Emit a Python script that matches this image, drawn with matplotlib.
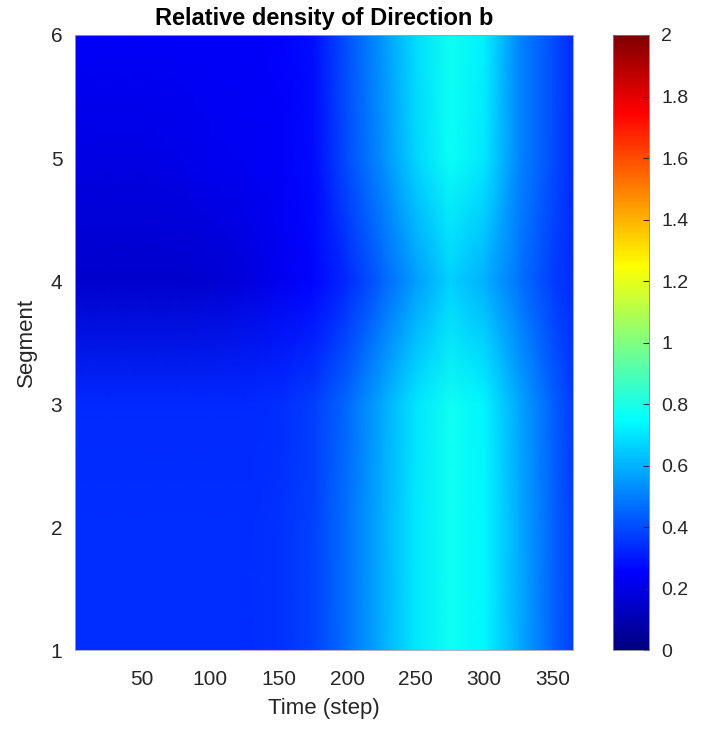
import numpy as np
import matplotlib
matplotlib.use("Agg")
import matplotlib.pyplot as plt
from matplotlib.colors import LinearSegmentedColormap

plt.rcParams['font.family'] = ['Liberation Sans', 'DejaVu Sans']

# time steps (columns) and segments (rows)
time_steps = [1, 25, 50, 75, 100, 125, 150, 175, 200, 225, 250, 275, 300, 325, 350, 365]
segments = [1, 2, 3, 4, 5, 6]

# relative density, one list per segment
seg1 = [0.34, 0.34, 0.34, 0.34, 0.34, 0.34, 0.35, 0.38, 0.47, 0.59, 0.71, 0.78, 0.74, 0.59, 0.45, 0.37]
seg2 = [0.34, 0.34, 0.34, 0.34, 0.34, 0.34, 0.35, 0.38, 0.47, 0.59, 0.71, 0.78, 0.74, 0.59, 0.45, 0.37]
seg3 = [0.33, 0.33, 0.33, 0.33, 0.33, 0.33, 0.34, 0.37, 0.46, 0.58, 0.70, 0.78, 0.73, 0.58, 0.44, 0.36]
seg4 = [0.15, 0.15, 0.15, 0.15, 0.16, 0.18, 0.22, 0.26, 0.33, 0.44, 0.56, 0.66, 0.60, 0.48, 0.37, 0.33]
seg5 = [0.20, 0.20, 0.20, 0.21, 0.22, 0.23, 0.24, 0.27, 0.40, 0.53, 0.67, 0.77, 0.71, 0.52, 0.40, 0.33]
seg6 = [0.24, 0.24, 0.24, 0.24, 0.24, 0.24, 0.25, 0.28, 0.41, 0.54, 0.68, 0.78, 0.72, 0.52, 0.40, 0.33]

cbar_ticks = [0, 0.2, 0.4, 0.6, 0.8, 1, 1.2, 1.4, 1.6, 1.8, 2]
cbar_labels = ['0', '0.2', '0.4', '0.6', '0.8', '1', '1.2', '1.4', '1.6', '1.8', '2']

# matlab style jet
jet = LinearSegmentedColormap.from_list('mjet', [
    (0.0, (0, 0, 0.5)),
    (0.125, (0, 0, 1)),
    (0.375, (0, 1, 1)),
    (0.625, (1, 1, 0)),
    (0.875, (1, 0, 0)),
    (1.0, (0.5, 0, 0)),
], N=256)

density = np.array([seg1, seg2, seg3, seg4, seg5, seg6])
T, S = np.meshgrid(time_steps, segments)

fig = plt.figure(figsize=(7.06, 7.29), dpi=100)
ax = fig.add_axes([0.106, 0.108, 0.706, 0.844])
mesh = ax.pcolormesh(T, S, density, cmap=jet, vmin=0, vmax=2, shading='gouraud')
ax.set_xlim(time_steps[0], time_steps[-1])
ax.set_ylim(1, 6)
ax.set_xticks([50, 100, 150, 200, 250, 300, 350])
ax.set_yticks([1, 2, 3, 4, 5, 6])
ax.tick_params(labelsize=15, length=0, colors='#262626')
ax.tick_params(axis='x', pad=14)
ax.tick_params(axis='y', pad=9)
ax.set_xlabel('Time (step)', fontsize=16, color='#262626', labelpad=7)
ax.set_ylabel('Segment', fontsize=16, color='#262626', labelpad=10)
ax.set_title('Relative density of Direction b', fontsize=17, fontweight='bold', pad=7)
for sp in ax.spines.values():
    sp.set_color('#a0a0c0')
    sp.set_linewidth(0.6)

cax = fig.add_axes([0.868, 0.108, 0.051, 0.844])
cb = fig.colorbar(mesh, cax=cax, ticks=cbar_ticks)
cb.ax.set_yticklabels(cbar_labels)
cb.ax.tick_params(labelsize=14, direction='in', length=4, colors='#262626', pad=9)
cb.outline.set_linewidth(0.6)
cb.outline.set_edgecolor('#808080')

fig.savefig('out.png', dpi=100)
